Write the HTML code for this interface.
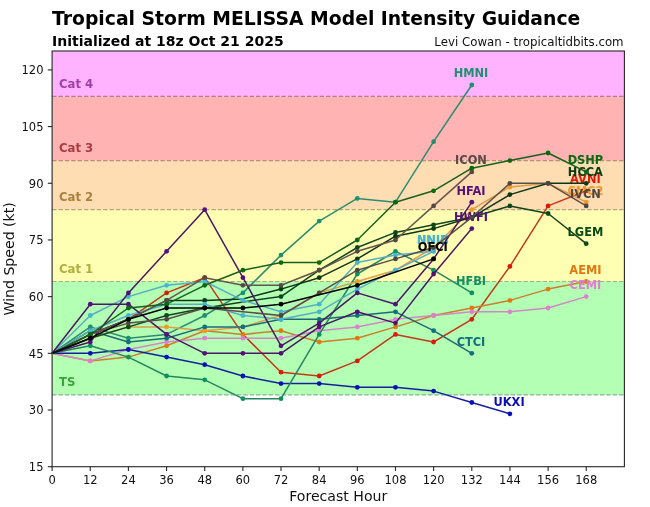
<!DOCTYPE html>
<html><head><meta charset="utf-8"><title>Tropical Storm MELISSA Model Intensity Guidance</title>
<style>html,body{margin:0;padding:0;background:#fff}svg{display:block}text{font-family:"DejaVu Sans","Liberation Sans",sans-serif}</style></head><body>
<svg width="650" height="507" viewBox="0 0 650 507">
<rect width="650" height="507" fill="#fff"/>
<rect x="52.10" y="51.00" width="572.30" height="45.35" fill="#ffb3ff"/>
<rect x="52.10" y="96.35" width="572.30" height="64.24" fill="#ffb3b3"/>
<rect x="52.10" y="160.59" width="572.30" height="49.13" fill="#ffddb2"/>
<rect x="52.10" y="209.72" width="572.30" height="71.80" fill="#ffffb3"/>
<rect x="52.10" y="281.52" width="572.30" height="113.37" fill="#b3ffb3"/>
<line x1="52.10" x2="624.40" y1="96.35" y2="96.35" stroke="#b27a9c" stroke-width="1.2" stroke-dasharray="4.45 1.92"/>
<line x1="52.10" x2="624.40" y1="160.59" y2="160.59" stroke="#b88c7e" stroke-width="1.2" stroke-dasharray="4.45 1.92"/>
<line x1="52.10" x2="624.40" y1="209.72" y2="209.72" stroke="#b8a67a" stroke-width="1.2" stroke-dasharray="4.45 1.92"/>
<line x1="52.10" x2="624.40" y1="281.52" y2="281.52" stroke="#9cb87e" stroke-width="1.2" stroke-dasharray="4.45 1.92"/>
<line x1="52.10" x2="624.40" y1="394.90" y2="394.90" stroke="#86b48e" stroke-width="1.2" stroke-dasharray="4.45 1.92"/>
<text x="59" y="87.75" font-size="11.7" font-weight="bold" fill="#a040a8">Cat 4</text>
<text x="59" y="151.99" font-size="11.7" font-weight="bold" fill="#a83c44">Cat 3</text>
<text x="59" y="201.12" font-size="11.7" font-weight="bold" fill="#a88040">Cat 2</text>
<text x="59" y="272.92" font-size="11.7" font-weight="bold" fill="#b0b040">Cat 1</text>
<text x="59" y="386.30" font-size="11.7" font-weight="bold" fill="#40a040">TS</text>
<g><polyline points="52.1,353.3 90.3,334.4 128.4,319.3 166.6,292.9 204.7,277.7 242.9,334.4 281.0,372.2 319.2,376.0 357.3,360.9 395.5,334.4 433.6,342.0 471.8,319.3 509.9,266.4 548.1,205.9 586.2,190.8" fill="none" stroke="#c4381a" stroke-width="1.5" stroke-linejoin="round"/>
<circle cx="90.3" cy="334.4" r="2.4" fill="#dd1a0a"/>
<circle cx="128.4" cy="319.3" r="2.4" fill="#dd1a0a"/>
<circle cx="166.6" cy="292.9" r="2.4" fill="#dd1a0a"/>
<circle cx="204.7" cy="277.7" r="2.4" fill="#dd1a0a"/>
<circle cx="281.0" cy="372.2" r="2.4" fill="#dd1a0a"/>
<circle cx="319.2" cy="376.0" r="2.4" fill="#dd1a0a"/>
<circle cx="357.3" cy="360.9" r="2.4" fill="#dd1a0a"/>
<circle cx="395.5" cy="334.4" r="2.4" fill="#dd1a0a"/>
<circle cx="433.6" cy="342.0" r="2.4" fill="#dd1a0a"/>
<circle cx="471.8" cy="319.3" r="2.4" fill="#dd1a0a"/>
<circle cx="509.9" cy="266.4" r="2.4" fill="#dd1a0a"/>
<circle cx="548.1" cy="205.9" r="2.4" fill="#dd1a0a"/>
<circle cx="586.2" cy="190.8" r="2.4" fill="#dd1a0a"/>
<text x="585.4" y="183.1" font-size="11.4" font-weight="bold" text-anchor="middle" fill="#dd1a0a">AVNI</text></g>
<g><polyline points="52.1,353.3 90.3,360.9 128.4,357.1 166.6,345.8 204.7,330.7 242.9,334.4 281.0,330.7 319.2,342.0 357.3,338.2 395.5,326.9 433.6,315.5 471.8,308.0 509.9,300.4 548.1,289.1 586.2,281.5" fill="none" stroke="#cb7e2f" stroke-width="1.5" stroke-linejoin="round"/>
<circle cx="90.3" cy="360.9" r="2.4" fill="#e07a10"/>
<circle cx="128.4" cy="357.1" r="2.4" fill="#e07a10"/>
<circle cx="166.6" cy="345.8" r="2.4" fill="#e07a10"/>
<circle cx="204.7" cy="330.7" r="2.4" fill="#e07a10"/>
<circle cx="242.9" cy="334.4" r="2.4" fill="#e07a10"/>
<circle cx="281.0" cy="330.7" r="2.4" fill="#e07a10"/>
<circle cx="319.2" cy="342.0" r="2.4" fill="#e07a10"/>
<circle cx="357.3" cy="338.2" r="2.4" fill="#e07a10"/>
<circle cx="395.5" cy="326.9" r="2.4" fill="#e07a10"/>
<circle cx="433.6" cy="315.5" r="2.4" fill="#e07a10"/>
<circle cx="471.8" cy="308.0" r="2.4" fill="#e07a10"/>
<circle cx="509.9" cy="300.4" r="2.4" fill="#e07a10"/>
<circle cx="548.1" cy="289.1" r="2.4" fill="#e07a10"/>
<circle cx="586.2" cy="281.5" r="2.4" fill="#e07a10"/>
<text x="585.4" y="273.8" font-size="11.4" font-weight="bold" text-anchor="middle" fill="#e07a10">AEMI</text></g>
<g><polyline points="52.1,353.3 90.3,360.9 128.4,349.5 166.6,342.0 204.7,338.2 242.9,338.2 281.0,338.2 319.2,330.7 357.3,326.9 395.5,319.3 433.6,315.5 471.8,311.8 509.9,311.8 548.1,308.0 586.2,296.6" fill="none" stroke="#d188c5" stroke-width="1.5" stroke-linejoin="round"/>
<circle cx="90.3" cy="360.9" r="2.4" fill="#e07fd0"/>
<circle cx="128.4" cy="349.5" r="2.4" fill="#e07fd0"/>
<circle cx="166.6" cy="342.0" r="2.4" fill="#e07fd0"/>
<circle cx="204.7" cy="338.2" r="2.4" fill="#e07fd0"/>
<circle cx="242.9" cy="338.2" r="2.4" fill="#e07fd0"/>
<circle cx="281.0" cy="338.2" r="2.4" fill="#e07fd0"/>
<circle cx="319.2" cy="330.7" r="2.4" fill="#e07fd0"/>
<circle cx="357.3" cy="326.9" r="2.4" fill="#e07fd0"/>
<circle cx="395.5" cy="319.3" r="2.4" fill="#e07fd0"/>
<circle cx="433.6" cy="315.5" r="2.4" fill="#e07fd0"/>
<circle cx="471.8" cy="311.8" r="2.4" fill="#e07fd0"/>
<circle cx="509.9" cy="311.8" r="2.4" fill="#e07fd0"/>
<circle cx="548.1" cy="308.0" r="2.4" fill="#e07fd0"/>
<circle cx="586.2" cy="296.6" r="2.4" fill="#e07fd0"/>
<text x="585.4" y="288.9" font-size="11.4" font-weight="bold" text-anchor="middle" fill="#e07fd0">CEMI</text></g>
<g><polyline points="52.1,353.3 90.3,353.3 128.4,349.5 166.6,357.1 204.7,364.7 242.9,376.0 281.0,383.6 319.2,383.6 357.3,387.3 395.5,387.3 433.6,391.1 471.8,402.5 509.9,413.8" fill="none" stroke="#1420a0" stroke-width="1.5" stroke-linejoin="round"/>
<circle cx="90.3" cy="353.3" r="2.4" fill="#0c10b4"/>
<circle cx="128.4" cy="349.5" r="2.4" fill="#0c10b4"/>
<circle cx="166.6" cy="357.1" r="2.4" fill="#0c10b4"/>
<circle cx="204.7" cy="364.7" r="2.4" fill="#0c10b4"/>
<circle cx="242.9" cy="376.0" r="2.4" fill="#0c10b4"/>
<circle cx="281.0" cy="383.6" r="2.4" fill="#0c10b4"/>
<circle cx="319.2" cy="383.6" r="2.4" fill="#0c10b4"/>
<circle cx="357.3" cy="387.3" r="2.4" fill="#0c10b4"/>
<circle cx="395.5" cy="387.3" r="2.4" fill="#0c10b4"/>
<circle cx="433.6" cy="391.1" r="2.4" fill="#0c10b4"/>
<circle cx="471.8" cy="402.5" r="2.4" fill="#0c10b4"/>
<circle cx="509.9" cy="413.8" r="2.4" fill="#0c10b4"/>
<text x="509.1" y="406.1" font-size="11.4" font-weight="bold" text-anchor="middle" fill="#0c10b4">UKXI</text></g>
<g><polyline points="52.1,353.3 90.3,345.8 128.4,357.1 166.6,376.0 204.7,379.8 242.9,398.7 281.0,398.7 319.2,334.4 357.3,274.0 395.5,251.3 433.6,270.2 471.8,292.9" fill="none" stroke="#258561" stroke-width="1.5" stroke-linejoin="round"/>
<circle cx="90.3" cy="345.8" r="2.4" fill="#109060"/>
<circle cx="128.4" cy="357.1" r="2.4" fill="#109060"/>
<circle cx="166.6" cy="376.0" r="2.4" fill="#109060"/>
<circle cx="204.7" cy="379.8" r="2.4" fill="#109060"/>
<circle cx="242.9" cy="398.7" r="2.4" fill="#109060"/>
<circle cx="281.0" cy="398.7" r="2.4" fill="#109060"/>
<circle cx="319.2" cy="334.4" r="2.4" fill="#109060"/>
<circle cx="357.3" cy="274.0" r="2.4" fill="#109060"/>
<circle cx="395.5" cy="251.3" r="2.4" fill="#109060"/>
<circle cx="433.6" cy="270.2" r="2.4" fill="#109060"/>
<circle cx="471.8" cy="292.9" r="2.4" fill="#109060"/>
<text x="471.0" y="285.2" font-size="11.4" font-weight="bold" text-anchor="middle" fill="#109060">HFBI</text></g>
<g><polyline points="52.1,353.3 90.3,326.9 128.4,338.2 166.6,334.4 204.7,315.5 242.9,292.9 281.0,255.1 319.2,221.1 357.3,198.4 395.5,202.2 433.6,141.7 471.8,85.0" fill="none" stroke="#2c8c70" stroke-width="1.5" stroke-linejoin="round"/>
<circle cx="90.3" cy="326.9" r="2.4" fill="#1e9070"/>
<circle cx="128.4" cy="338.2" r="2.4" fill="#1e9070"/>
<circle cx="166.6" cy="334.4" r="2.4" fill="#1e9070"/>
<circle cx="204.7" cy="315.5" r="2.4" fill="#1e9070"/>
<circle cx="242.9" cy="292.9" r="2.4" fill="#1e9070"/>
<circle cx="281.0" cy="255.1" r="2.4" fill="#1e9070"/>
<circle cx="319.2" cy="221.1" r="2.4" fill="#1e9070"/>
<circle cx="357.3" cy="198.4" r="2.4" fill="#1e9070"/>
<circle cx="395.5" cy="202.2" r="2.4" fill="#1e9070"/>
<circle cx="433.6" cy="141.7" r="2.4" fill="#1e9070"/>
<circle cx="471.8" cy="85.0" r="2.4" fill="#1e9070"/>
<text x="471.0" y="77.3" font-size="11.4" font-weight="bold" text-anchor="middle" fill="#1e9070">HMNI</text></g>
<g><polyline points="52.1,353.3 90.3,338.2 128.4,326.9 166.6,326.9 204.7,330.7 242.9,326.9 281.0,315.5 319.2,292.9 357.3,281.5 395.5,270.2 433.6,247.5 471.8,209.7 509.9,187.0 548.1,183.3 586.2,202.2" fill="none" stroke="#dd9d49" stroke-width="1.5" stroke-linejoin="round"/>
<circle cx="90.3" cy="338.2" r="2.4" fill="#f09a2a"/>
<circle cx="128.4" cy="326.9" r="2.4" fill="#f09a2a"/>
<circle cx="166.6" cy="326.9" r="2.4" fill="#f09a2a"/>
<circle cx="204.7" cy="330.7" r="2.4" fill="#f09a2a"/>
<circle cx="242.9" cy="326.9" r="2.4" fill="#f09a2a"/>
<circle cx="281.0" cy="315.5" r="2.4" fill="#f09a2a"/>
<circle cx="319.2" cy="292.9" r="2.4" fill="#f09a2a"/>
<circle cx="357.3" cy="281.5" r="2.4" fill="#f09a2a"/>
<circle cx="395.5" cy="270.2" r="2.4" fill="#f09a2a"/>
<circle cx="433.6" cy="247.5" r="2.4" fill="#f09a2a"/>
<circle cx="471.8" cy="209.7" r="2.4" fill="#f09a2a"/>
<circle cx="509.9" cy="187.0" r="2.4" fill="#f09a2a"/>
<circle cx="548.1" cy="183.3" r="2.4" fill="#f09a2a"/>
<circle cx="586.2" cy="202.2" r="2.4" fill="#f09a2a"/>
<text x="585.4" y="194.5" font-size="11.4" font-weight="bold" text-anchor="middle" fill="#f09a2a">CMC2</text></g>
<g><polyline points="52.1,353.3 90.3,330.7 128.4,342.0 166.6,338.2 204.7,326.9 242.9,326.9 281.0,319.3 319.2,319.3 357.3,315.5 395.5,311.8 433.6,330.7 471.8,353.3" fill="none" stroke="#216975" stroke-width="1.5" stroke-linejoin="round"/>
<circle cx="90.3" cy="330.7" r="2.4" fill="#107080"/>
<circle cx="128.4" cy="342.0" r="2.4" fill="#107080"/>
<circle cx="166.6" cy="338.2" r="2.4" fill="#107080"/>
<circle cx="204.7" cy="326.9" r="2.4" fill="#107080"/>
<circle cx="242.9" cy="326.9" r="2.4" fill="#107080"/>
<circle cx="281.0" cy="319.3" r="2.4" fill="#107080"/>
<circle cx="319.2" cy="319.3" r="2.4" fill="#107080"/>
<circle cx="357.3" cy="315.5" r="2.4" fill="#107080"/>
<circle cx="395.5" cy="311.8" r="2.4" fill="#107080"/>
<circle cx="433.6" cy="330.7" r="2.4" fill="#107080"/>
<circle cx="471.8" cy="353.3" r="2.4" fill="#107080"/>
<text x="471.0" y="345.6" font-size="11.4" font-weight="bold" text-anchor="middle" fill="#107080">CTCI</text></g>
<g><polyline points="52.1,353.3 90.3,338.2 128.4,326.9 166.6,315.5 204.7,308.0 242.9,301.9 281.0,296.6 319.2,270.2 357.3,247.5 395.5,232.4 433.6,224.8 471.8,217.3 509.9,205.9 548.1,213.5 586.2,243.7" fill="none" stroke="#13431e" stroke-width="1.5" stroke-linejoin="round"/>
<circle cx="90.3" cy="338.2" r="2.4" fill="#0a4a18"/>
<circle cx="128.4" cy="326.9" r="2.4" fill="#0a4a18"/>
<circle cx="166.6" cy="315.5" r="2.4" fill="#0a4a18"/>
<circle cx="204.7" cy="308.0" r="2.4" fill="#0a4a18"/>
<circle cx="281.0" cy="296.6" r="2.4" fill="#0a4a18"/>
<circle cx="319.2" cy="270.2" r="2.4" fill="#0a4a18"/>
<circle cx="357.3" cy="247.5" r="2.4" fill="#0a4a18"/>
<circle cx="395.5" cy="232.4" r="2.4" fill="#0a4a18"/>
<circle cx="433.6" cy="224.8" r="2.4" fill="#0a4a18"/>
<circle cx="471.8" cy="217.3" r="2.4" fill="#0a4a18"/>
<circle cx="509.9" cy="205.9" r="2.4" fill="#0a4a18"/>
<circle cx="548.1" cy="213.5" r="2.4" fill="#0a4a18"/>
<circle cx="586.2" cy="243.7" r="2.4" fill="#0a4a18"/>
<text x="585.4" y="236.0" font-size="11.4" font-weight="bold" text-anchor="middle" fill="#0a4a18">LGEM</text></g>
<g><polyline points="52.1,353.3 90.3,334.4 128.4,319.3 166.6,300.4 204.7,300.4 242.9,298.9 281.0,289.1 319.2,277.7 357.3,258.9 395.5,236.2 433.6,228.6 471.8,217.3 509.9,194.6 548.1,183.3 586.2,183.3" fill="none" stroke="#0f3517" stroke-width="1.5" stroke-linejoin="round"/>
<circle cx="90.3" cy="334.4" r="2.4" fill="#083a12"/>
<circle cx="128.4" cy="319.3" r="2.4" fill="#083a12"/>
<circle cx="166.6" cy="300.4" r="2.4" fill="#083a12"/>
<circle cx="204.7" cy="300.4" r="2.4" fill="#083a12"/>
<circle cx="281.0" cy="289.1" r="2.4" fill="#083a12"/>
<circle cx="319.2" cy="277.7" r="2.4" fill="#083a12"/>
<circle cx="357.3" cy="258.9" r="2.4" fill="#083a12"/>
<circle cx="395.5" cy="236.2" r="2.4" fill="#083a12"/>
<circle cx="433.6" cy="228.6" r="2.4" fill="#083a12"/>
<circle cx="471.8" cy="217.3" r="2.4" fill="#083a12"/>
<circle cx="509.9" cy="194.6" r="2.4" fill="#083a12"/>
<circle cx="548.1" cy="183.3" r="2.4" fill="#083a12"/>
<circle cx="586.2" cy="183.3" r="2.4" fill="#083a12"/>
<text x="585.4" y="175.6" font-size="11.4" font-weight="bold" text-anchor="middle" fill="#083a12">HCCA</text></g>
<g><polyline points="52.1,353.3 90.3,330.7 128.4,315.5 166.6,304.2 204.7,304.2 242.9,315.5 281.0,319.3 319.2,311.8 357.3,289.1 395.5,270.2 433.6,251.3" fill="none" stroke="#59adc1" stroke-width="1.5" stroke-linejoin="round"/>
<circle cx="90.3" cy="330.7" r="2.4" fill="#45b5d0"/>
<circle cx="128.4" cy="315.5" r="2.4" fill="#45b5d0"/>
<circle cx="166.6" cy="304.2" r="2.4" fill="#45b5d0"/>
<circle cx="204.7" cy="304.2" r="2.4" fill="#45b5d0"/>
<circle cx="242.9" cy="315.5" r="2.4" fill="#45b5d0"/>
<circle cx="281.0" cy="319.3" r="2.4" fill="#45b5d0"/>
<circle cx="319.2" cy="311.8" r="2.4" fill="#45b5d0"/>
<circle cx="357.3" cy="289.1" r="2.4" fill="#45b5d0"/>
<circle cx="395.5" cy="270.2" r="2.4" fill="#45b5d0"/>
<circle cx="433.6" cy="251.3" r="2.4" fill="#45b5d0"/>
<text x="432.8" y="243.6" font-size="11.4" font-weight="bold" text-anchor="middle" fill="#45b5d0">NNIC</text></g>
<g><polyline points="52.1,353.3 90.3,315.5 128.4,296.6 166.6,285.3 204.7,281.5 242.9,300.4 281.0,311.8 319.2,304.2 357.3,262.6 395.5,255.1 433.6,251.3" fill="none" stroke="#59adc1" stroke-width="1.5" stroke-linejoin="round"/>
<circle cx="90.3" cy="315.5" r="2.4" fill="#45b5d0"/>
<circle cx="128.4" cy="296.6" r="2.4" fill="#45b5d0"/>
<circle cx="166.6" cy="285.3" r="2.4" fill="#45b5d0"/>
<circle cx="204.7" cy="281.5" r="2.4" fill="#45b5d0"/>
<circle cx="242.9" cy="300.4" r="2.4" fill="#45b5d0"/>
<circle cx="281.0" cy="311.8" r="2.4" fill="#45b5d0"/>
<circle cx="319.2" cy="304.2" r="2.4" fill="#45b5d0"/>
<circle cx="357.3" cy="262.6" r="2.4" fill="#45b5d0"/>
<circle cx="395.5" cy="255.1" r="2.4" fill="#45b5d0"/>
<circle cx="433.6" cy="251.3" r="2.4" fill="#45b5d0"/>
<text x="432.8" y="243.6" font-size="11.4" font-weight="bold" text-anchor="middle" fill="#45b5d0">NNIB</text></g>
<g><polyline points="52.1,353.3 90.3,304.2 128.4,304.2 166.6,334.4 204.7,353.3 242.9,353.3 281.0,353.3 319.2,326.9 357.3,311.8 395.5,323.1 433.6,274.0 471.8,228.6" fill="none" stroke="#4a1765" stroke-width="1.5" stroke-linejoin="round"/>
<circle cx="90.3" cy="304.2" r="2.4" fill="#541078"/>
<circle cx="128.4" cy="304.2" r="2.4" fill="#541078"/>
<circle cx="166.6" cy="334.4" r="2.4" fill="#541078"/>
<circle cx="204.7" cy="353.3" r="2.4" fill="#541078"/>
<circle cx="242.9" cy="353.3" r="2.4" fill="#541078"/>
<circle cx="281.0" cy="353.3" r="2.4" fill="#541078"/>
<circle cx="319.2" cy="326.9" r="2.4" fill="#541078"/>
<circle cx="357.3" cy="311.8" r="2.4" fill="#541078"/>
<circle cx="395.5" cy="323.1" r="2.4" fill="#541078"/>
<circle cx="433.6" cy="274.0" r="2.4" fill="#541078"/>
<circle cx="471.8" cy="228.6" r="2.4" fill="#541078"/>
<text x="471.0" y="220.9" font-size="11.4" font-weight="bold" text-anchor="middle" fill="#541078">HWFI</text></g>
<g><polyline points="52.1,353.3 90.3,342.0 128.4,292.9 166.6,251.3 204.7,209.7 242.9,277.7 281.0,345.8 319.2,323.1 357.3,292.9 395.5,304.2 433.6,258.9 471.8,202.2" fill="none" stroke="#4a1765" stroke-width="1.5" stroke-linejoin="round"/>
<circle cx="90.3" cy="342.0" r="2.4" fill="#541078"/>
<circle cx="128.4" cy="292.9" r="2.4" fill="#541078"/>
<circle cx="166.6" cy="251.3" r="2.4" fill="#541078"/>
<circle cx="204.7" cy="209.7" r="2.4" fill="#541078"/>
<circle cx="242.9" cy="277.7" r="2.4" fill="#541078"/>
<circle cx="281.0" cy="345.8" r="2.4" fill="#541078"/>
<circle cx="319.2" cy="323.1" r="2.4" fill="#541078"/>
<circle cx="357.3" cy="292.9" r="2.4" fill="#541078"/>
<circle cx="395.5" cy="304.2" r="2.4" fill="#541078"/>
<circle cx="433.6" cy="258.9" r="2.4" fill="#541078"/>
<circle cx="471.8" cy="202.2" r="2.4" fill="#541078"/>
<text x="471.0" y="194.5" font-size="11.4" font-weight="bold" text-anchor="middle" fill="#541078">HFAI</text></g>
<g><polyline points="52.1,353.3 90.3,334.4 128.4,323.1 166.6,319.3 204.7,308.0 242.9,311.8 281.0,315.5 319.2,292.9 357.3,270.2 395.5,258.9 433.6,247.5 471.8,217.3 509.9,183.3 548.1,183.3 586.2,205.9" fill="none" stroke="#5a4e48" stroke-width="1.5" stroke-linejoin="round"/>
<circle cx="90.3" cy="334.4" r="2.4" fill="#4e4644"/>
<circle cx="128.4" cy="323.1" r="2.4" fill="#4e4644"/>
<circle cx="166.6" cy="319.3" r="2.4" fill="#4e4644"/>
<circle cx="204.7" cy="308.0" r="2.4" fill="#4e4644"/>
<circle cx="281.0" cy="315.5" r="2.4" fill="#4e4644"/>
<circle cx="319.2" cy="292.9" r="2.4" fill="#4e4644"/>
<circle cx="357.3" cy="270.2" r="2.4" fill="#4e4644"/>
<circle cx="395.5" cy="258.9" r="2.4" fill="#4e4644"/>
<circle cx="433.6" cy="247.5" r="2.4" fill="#4e4644"/>
<circle cx="471.8" cy="217.3" r="2.4" fill="#4e4644"/>
<circle cx="509.9" cy="183.3" r="2.4" fill="#4e4644"/>
<circle cx="548.1" cy="183.3" r="2.4" fill="#4e4644"/>
<circle cx="586.2" cy="205.9" r="2.4" fill="#4e4644"/>
<text x="585.4" y="198.2" font-size="11.4" font-weight="bold" text-anchor="middle" fill="#4e4644">IVCN</text></g>
<g><polyline points="52.1,353.3 90.3,334.4 128.4,319.3 166.6,300.4 204.7,277.7 242.9,285.3 281.0,285.3 319.2,270.2 357.3,251.3 395.5,240.0 433.6,205.9 471.8,171.9" fill="none" stroke="#66544e" stroke-width="1.5" stroke-linejoin="round"/>
<circle cx="90.3" cy="334.4" r="2.4" fill="#584846"/>
<circle cx="128.4" cy="319.3" r="2.4" fill="#584846"/>
<circle cx="166.6" cy="300.4" r="2.4" fill="#584846"/>
<circle cx="204.7" cy="277.7" r="2.4" fill="#584846"/>
<circle cx="242.9" cy="285.3" r="2.4" fill="#584846"/>
<circle cx="281.0" cy="285.3" r="2.4" fill="#584846"/>
<circle cx="319.2" cy="270.2" r="2.4" fill="#584846"/>
<circle cx="357.3" cy="251.3" r="2.4" fill="#584846"/>
<circle cx="395.5" cy="240.0" r="2.4" fill="#584846"/>
<circle cx="433.6" cy="205.9" r="2.4" fill="#584846"/>
<circle cx="471.8" cy="171.9" r="2.4" fill="#584846"/>
<text x="471.0" y="164.2" font-size="11.4" font-weight="bold" text-anchor="middle" fill="#584846">ICON</text></g>
<g><polyline points="52.1,353.3 90.3,334.4 128.4,308.0 166.6,304.2 204.7,285.3 242.9,270.2 281.0,262.6 319.2,262.6 357.3,240.0 395.5,202.2 433.6,190.8 471.8,168.2 509.9,160.6 548.1,153.0 586.2,171.9" fill="none" stroke="#18601e" stroke-width="1.5" stroke-linejoin="round"/>
<circle cx="90.3" cy="334.4" r="2.4" fill="#0a6a12"/>
<circle cx="128.4" cy="308.0" r="2.4" fill="#0a6a12"/>
<circle cx="166.6" cy="304.2" r="2.4" fill="#0a6a12"/>
<circle cx="204.7" cy="285.3" r="2.4" fill="#0a6a12"/>
<circle cx="242.9" cy="270.2" r="2.4" fill="#0a6a12"/>
<circle cx="281.0" cy="262.6" r="2.4" fill="#0a6a12"/>
<circle cx="319.2" cy="262.6" r="2.4" fill="#0a6a12"/>
<circle cx="357.3" cy="240.0" r="2.4" fill="#0a6a12"/>
<circle cx="395.5" cy="202.2" r="2.4" fill="#0a6a12"/>
<circle cx="433.6" cy="190.8" r="2.4" fill="#0a6a12"/>
<circle cx="471.8" cy="168.2" r="2.4" fill="#0a6a12"/>
<circle cx="509.9" cy="160.6" r="2.4" fill="#0a6a12"/>
<circle cx="548.1" cy="153.0" r="2.4" fill="#0a6a12"/>
<circle cx="586.2" cy="171.9" r="2.4" fill="#0a6a12"/>
<text x="585.4" y="164.2" font-size="11.4" font-weight="bold" text-anchor="middle" fill="#0a6a12">DSHP</text></g>
<g><polyline points="52.1,353.3 90.3,338.2 128.4,319.3 166.6,308.0 204.7,308.0 242.9,308.0 281.0,304.2 357.3,285.3 433.6,258.9" fill="none" stroke="#000000" stroke-width="1.5" stroke-linejoin="round"/>
<circle cx="90.3" cy="338.2" r="2.4" fill="#000000"/>
<circle cx="128.4" cy="319.3" r="2.4" fill="#000000"/>
<circle cx="166.6" cy="308.0" r="2.4" fill="#000000"/>
<circle cx="204.7" cy="308.0" r="2.4" fill="#000000"/>
<circle cx="242.9" cy="308.0" r="2.4" fill="#000000"/>
<circle cx="281.0" cy="304.2" r="2.4" fill="#000000"/>
<circle cx="357.3" cy="285.3" r="2.4" fill="#000000"/>
<circle cx="433.6" cy="258.9" r="2.4" fill="#000000"/>
<text x="432.8" y="251.2" font-size="11.4" font-weight="bold" text-anchor="middle" fill="#000000">OFCI</text></g>
<rect x="52.10" y="51.00" width="572.30" height="415.70" fill="none" stroke="#262626" stroke-width="1.1"/>
<line x1="52.10" x2="52.10" y1="466.70" y2="471.00" stroke="#262626" stroke-width="1.1"/>
<text x="52.10" y="484.30" font-size="11.5" text-anchor="middle" fill="#111">0</text>
<line x1="90.25" x2="90.25" y1="466.70" y2="471.00" stroke="#262626" stroke-width="1.1"/>
<text x="90.25" y="484.30" font-size="11.5" text-anchor="middle" fill="#111">12</text>
<line x1="128.41" x2="128.41" y1="466.70" y2="471.00" stroke="#262626" stroke-width="1.1"/>
<text x="128.41" y="484.30" font-size="11.5" text-anchor="middle" fill="#111">24</text>
<line x1="166.56" x2="166.56" y1="466.70" y2="471.00" stroke="#262626" stroke-width="1.1"/>
<text x="166.56" y="484.30" font-size="11.5" text-anchor="middle" fill="#111">36</text>
<line x1="204.71" x2="204.71" y1="466.70" y2="471.00" stroke="#262626" stroke-width="1.1"/>
<text x="204.71" y="484.30" font-size="11.5" text-anchor="middle" fill="#111">48</text>
<line x1="242.87" x2="242.87" y1="466.70" y2="471.00" stroke="#262626" stroke-width="1.1"/>
<text x="242.87" y="484.30" font-size="11.5" text-anchor="middle" fill="#111">60</text>
<line x1="281.02" x2="281.02" y1="466.70" y2="471.00" stroke="#262626" stroke-width="1.1"/>
<text x="281.02" y="484.30" font-size="11.5" text-anchor="middle" fill="#111">72</text>
<line x1="319.17" x2="319.17" y1="466.70" y2="471.00" stroke="#262626" stroke-width="1.1"/>
<text x="319.17" y="484.30" font-size="11.5" text-anchor="middle" fill="#111">84</text>
<line x1="357.33" x2="357.33" y1="466.70" y2="471.00" stroke="#262626" stroke-width="1.1"/>
<text x="357.33" y="484.30" font-size="11.5" text-anchor="middle" fill="#111">96</text>
<line x1="395.48" x2="395.48" y1="466.70" y2="471.00" stroke="#262626" stroke-width="1.1"/>
<text x="395.48" y="484.30" font-size="11.5" text-anchor="middle" fill="#111">108</text>
<line x1="433.63" x2="433.63" y1="466.70" y2="471.00" stroke="#262626" stroke-width="1.1"/>
<text x="433.63" y="484.30" font-size="11.5" text-anchor="middle" fill="#111">120</text>
<line x1="471.79" x2="471.79" y1="466.70" y2="471.00" stroke="#262626" stroke-width="1.1"/>
<text x="471.79" y="484.30" font-size="11.5" text-anchor="middle" fill="#111">132</text>
<line x1="509.94" x2="509.94" y1="466.70" y2="471.00" stroke="#262626" stroke-width="1.1"/>
<text x="509.94" y="484.30" font-size="11.5" text-anchor="middle" fill="#111">144</text>
<line x1="548.09" x2="548.09" y1="466.70" y2="471.00" stroke="#262626" stroke-width="1.1"/>
<text x="548.09" y="484.30" font-size="11.5" text-anchor="middle" fill="#111">156</text>
<line x1="586.25" x2="586.25" y1="466.70" y2="471.00" stroke="#262626" stroke-width="1.1"/>
<text x="586.25" y="484.30" font-size="11.5" text-anchor="middle" fill="#111">168</text>
<line x1="47.80" x2="52.10" y1="466.70" y2="466.70" stroke="#262626" stroke-width="1.1"/>
<text x="43.50" y="471.00" font-size="11.5" text-anchor="end" fill="#111">15</text>
<line x1="47.80" x2="52.10" y1="410.01" y2="410.01" stroke="#262626" stroke-width="1.1"/>
<text x="43.50" y="414.31" font-size="11.5" text-anchor="end" fill="#111">30</text>
<line x1="47.80" x2="52.10" y1="353.33" y2="353.33" stroke="#262626" stroke-width="1.1"/>
<text x="43.50" y="357.63" font-size="11.5" text-anchor="end" fill="#111">45</text>
<line x1="47.80" x2="52.10" y1="296.64" y2="296.64" stroke="#262626" stroke-width="1.1"/>
<text x="43.50" y="300.94" font-size="11.5" text-anchor="end" fill="#111">60</text>
<line x1="47.80" x2="52.10" y1="239.95" y2="239.95" stroke="#262626" stroke-width="1.1"/>
<text x="43.50" y="244.25" font-size="11.5" text-anchor="end" fill="#111">75</text>
<line x1="47.80" x2="52.10" y1="183.27" y2="183.27" stroke="#262626" stroke-width="1.1"/>
<text x="43.50" y="187.57" font-size="11.5" text-anchor="end" fill="#111">90</text>
<line x1="47.80" x2="52.10" y1="126.58" y2="126.58" stroke="#262626" stroke-width="1.1"/>
<text x="43.50" y="130.88" font-size="11.5" text-anchor="end" fill="#111">105</text>
<line x1="47.80" x2="52.10" y1="69.90" y2="69.90" stroke="#262626" stroke-width="1.1"/>
<text x="43.50" y="74.20" font-size="11.5" text-anchor="end" fill="#111">120</text>
<text x="338.25" y="500.9" font-size="14.1" text-anchor="middle" fill="#111">Forecast Hour</text>
<text transform="translate(14.0,258.85) rotate(-90)" font-size="14.1" text-anchor="middle" fill="#111">Wind Speed (kt)</text>
<text x="52" y="25.2" font-size="18.8" font-weight="bold" fill="#000">Tropical Storm MELISSA Model Intensity Guidance</text>
<text x="52" y="46.3" font-size="14" font-weight="bold" fill="#000">Initialized at 18z Oct 21 2025</text>
<text x="623.6" y="46.3" font-size="11.8" text-anchor="end" fill="#111">Levi Cowan - tropicaltidbits.com</text>
</svg></body></html>
